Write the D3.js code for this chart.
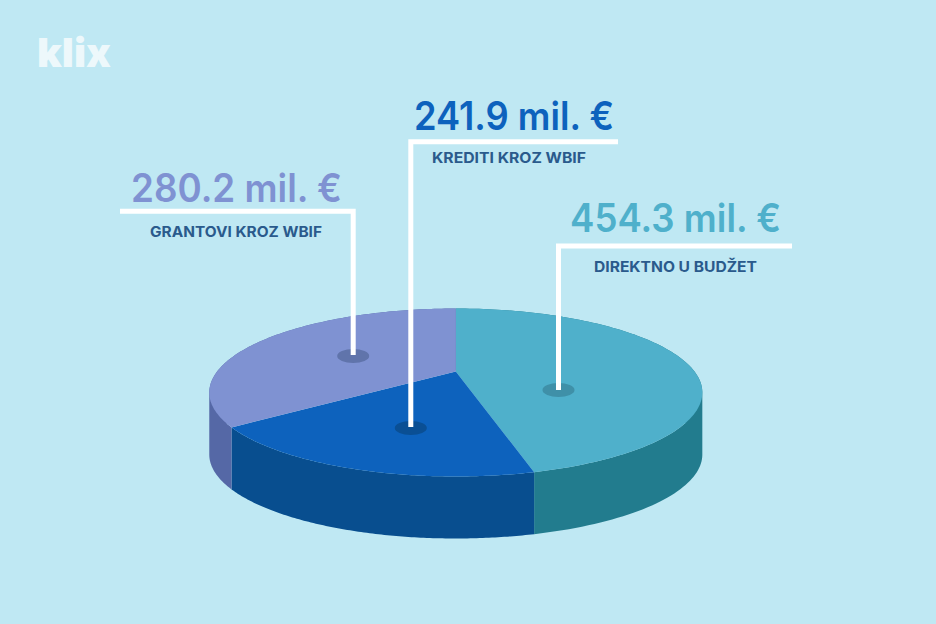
<!DOCTYPE html>
<html><head><meta charset="utf-8">
<script src="https://cdn.jsdelivr.net/npm/d3@7/dist/d3.min.js"></script>
<style>html,body{margin:0;padding:0;background:#bfe8f3}svg{display:block}text{font-family:Inter,sans-serif}</style>
</head><body><svg id="c" width="936" height="624"></svg>
<script>
// Data
const categories = ["DIREKTNO U BUDŽET", "KREDITI KROZ WBIF", "GRANTOVI KROZ WBIF"];
const amounts = [454.3, 241.9, 280.2];
const unit = "mil. €";
// Slice sizes as they are actually drawn in the picture (percent of the disc)
const drawnShares = [46.0, 18.7, 35.3];

// Styling and layout
const topColors = ["#4fb0cb", "#0d62bd", "#7f92d2"];
const sideColors = ["#227c8e", "#084e8f", "#5568a6"];
const pinColors = ["#3f90a8", "#0a4f94", "#6074ab"];
const valueColors = ["#4fb0cb", "#0d62bd", "#7f92d2"];
const callouts = [
  {x0:792, xv:558.5, y:246, yEnd:390, pinY:390, vx:570, vw:211, vy:232, lx:594, lw:163, ly:272},
  {x0:618, xv:410.8, y:141.7, yEnd:427, pinY:428, vx:414, vw:200, vy:130, lx:432, lw:154, ly:162.5},
  {x0:120, xv:353.2, y:211.2, yEnd:355, pinY:356, vx:131, vw:211, vy:202, lx:150, lw:172, ly:237}
];

const svg = d3.select("#c");
svg.append("rect").attr("width",936).attr("height",624).attr("fill","#bfe8f3");

// Perspective disc: unit circle -> screen
const apex = {x:455.8, y:371.5}, spread = 238.7, tilt = 78.75, persp = 0.25, depth = 62;
const project = a => {
  const u = Math.sin(a), v = Math.cos(a), w = 1 + persp * v;
  return [apex.x + spread * u / w, apex.y - tilt * v / w];
};
const rim = (a0, a1) => d3.range(0, 121).map(i => project(a0 + (a1 - a0) * i / 120));
const line = d3.line();

const slices = d3.pie().sort(null).value(d => d)(drawnShares);

// Side walls: every rim segment swept straight down, so the wall stays solid
// where the rim turns back on itself at the left and right ends of the disc.
svg.append("g").selectAll("path").data(slices).join("path")
  .attr("fill", (d,i) => sideColors[i])
  .attr("d", d => {
    const r = rim(d.startAngle, d.endAngle);
    return d3.pairs(r).map(([p, q]) => {
      const quad = p[0] <= q[0]
        ? [p, q, [q[0], q[1] + depth], [p[0], p[1] + depth]]
        : [q, p, [p[0], p[1] + depth], [q[0], q[1] + depth]];
      return line(quad) + "Z";
    }).join("");
  });

// Top faces
svg.append("g").selectAll("path").data(slices).join("path")
  .attr("fill", (d,i) => topColors[i])
  .attr("d", d => line([[apex.x, apex.y]].concat(rim(d.startAngle, d.endAngle))) + "Z");

// Pins
svg.append("g").selectAll("ellipse").data(callouts).join("ellipse")
  .attr("cx", d => d.xv).attr("cy", d => d.pinY).attr("rx", 16).attr("ry", 7)
  .attr("fill", (d,i) => pinColors[i]);

// Leader lines
svg.append("g").selectAll("path").data(callouts).join("path")
  .attr("fill","none").attr("stroke","#fff").attr("stroke-width",5)
  .attr("stroke-linejoin","miter")
  .attr("d", d => line([[d.x0,d.y],[d.xv,d.y],[d.xv,d.yEnd]]));

// Value labels
svg.append("g").selectAll("text").data(callouts).join("text")
  .attr("x", d => d.vx).attr("y", d => d.vy)
  .attr("textLength", d => d.vw).attr("lengthAdjust","spacingAndGlyphs")
  .attr("font-size",39).attr("font-weight",600)
  .attr("fill",(d,i) => valueColors[i])
  .text((d,i) => amounts[i].toFixed(1) + " " + unit);

// Category labels
svg.append("g").selectAll("text").data(callouts).join("text")
  .attr("x", d => d.lx).attr("y", d => d.ly)
  .attr("textLength", d => d.lw).attr("lengthAdjust","spacingAndGlyphs")
  .attr("font-size",14.5).attr("font-weight",700)
  .attr("fill","#2a5a8c")
  .text((d,i) => categories[i]);

// Logo
svg.append("text").attr("x",37).attr("y",67)
  .attr("textLength",74).attr("lengthAdjust","spacingAndGlyphs")
  .attr("font-size",40).attr("font-weight",900)
  .attr("fill","#fff").attr("fill-opacity",0.72).text("klix");
</script></body></html>
